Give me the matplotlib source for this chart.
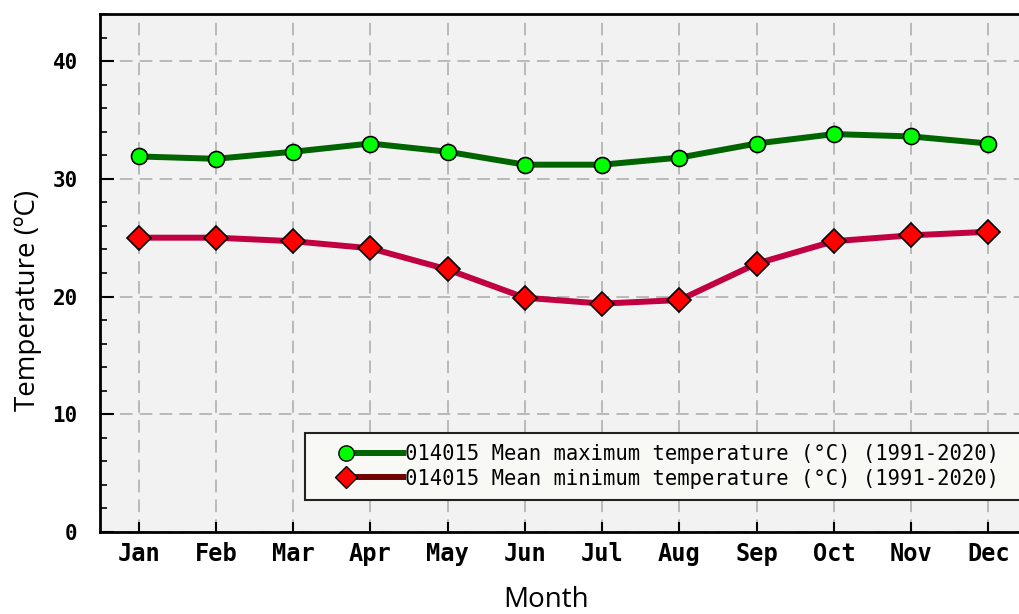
import numpy as np
import matplotlib
matplotlib.use("Agg")
import matplotlib.pyplot as plt
from matplotlib.lines import Line2D
from matplotlib.legend_handler import HandlerLine2D
from matplotlib.ticker import MultipleLocator

# Medias mensuales 1991-2020, estacion 014015
meses = ["Jan", "Feb", "Mar", "Apr", "May", "Jun",
         "Jul", "Aug", "Sep", "Oct", "Nov", "Dec"]
temp_max = [31.9, 31.7, 32.3, 33.0, 32.3, 31.2, 31.2, 31.8, 33.0, 33.8, 33.6, 33.0]
temp_min = [25.0, 25.0, 24.7, 24.1, 22.3, 19.9, 19.4, 19.7, 22.8, 24.7, 25.2, 25.5]
etiqueta_max = "014015 Mean maximum temperature (°C) (1991-2020)"
etiqueta_min = "014015 Mean minimum temperature (°C) (1991-2020)"


# marcador al inicio de la linea en la leyenda (con un margen a la izquierda)
class HandlerMarcadorIzq(HandlerLine2D):
    def create_artists(self, legend, orig_handle, xdescent, ydescent,
                       width, height, fontsize, trans):
        x0 = -xdescent + 0.34 * width
        y = (height - ydescent) / 2
        linea = Line2D([x0, -xdescent + width], [y, y])
        self.update_prop(linea, orig_handle, legend)
        linea.set_marker("None")
        marca = Line2D([x0], [y])
        self.update_prop(marca, orig_handle, legend)
        marca.set_linestyle("None")
        linea.set_transform(trans)
        marca.set_transform(trans)
        return [linea, marca]


W, H = 1019, 614
fig = plt.figure(figsize=(W / 100, H / 100), dpi=100)
ax = fig.add_axes([100 / W, 82 / H, 927 / W, 518 / H])
ax.set_facecolor("#f2f2f2")

x = np.arange(len(meses))
ax.plot(x, temp_max, color="#006400", lw=4.3, marker="o", ms=11.5,
        mfc="#00ff00", mec="black", mew=1.2, zorder=3)
ax.plot(x, temp_min, color="#c00040", lw=4.3, marker="D", ms=12,
        mfc="#ff0000", mec="black", mew=1.2, zorder=3)

ax.set_xlim(-0.5, 11.5)
ax.set_ylim(0, 44)
ax.set_xticks(x)
ax.set_xticklabels(meses)
ax.set_yticks([0, 10, 20, 30, 40])
ax.yaxis.set_minor_locator(MultipleLocator(2))

ax.grid(True, color="#b4b4b4", lw=1.3, linestyle=(0, (7, 4)))
ax.set_axisbelow(True)

ax.tick_params(axis="both", which="major", direction="in", length=7, width=1.5,
               colors="black")
ax.tick_params(axis="y", which="major", length=10, pad=16)
ax.tick_params(axis="x", which="major", pad=7)
ax.tick_params(axis="y", which="minor", direction="in", length=5, width=1.2)
for lab in ax.get_xticklabels():
    lab.set_fontfamily("DejaVu Sans Mono")
    lab.set_fontweight("bold")
    lab.set_fontsize(17)
for lab in ax.get_yticklabels():
    lab.set_fontfamily("DejaVu Sans Mono")
    lab.set_fontweight("bold")
    lab.set_fontsize(15)

for lado in ["top", "left", "bottom"]:
    ax.spines[lado].set_linewidth(2)
    ax.spines[lado].set_color("black")
ax.spines["right"].set_visible(False)

fig.text(28 / W, 1 - 300 / H, "Temperature (ºC)", rotation=90, ha="center",
         va="center", fontsize=20, family="Open Sans")
fig.text(546 / W, 1 - 600 / H, "Month", ha="center", va="center",
         fontsize=20, family="Open Sans")

h_max = Line2D([], [], color="#006400", lw=4.3, marker="o", ms=11,
               mfc="#00ff00", mec="black", mew=1)
h_min = Line2D([], [], color="#700000", lw=4.3, marker="D", ms=11,
               mfc="#ff0000", mec="black", mew=1)
leg = ax.legend([h_max, h_min], [etiqueta_max, etiqueta_min],
                loc="lower left", bbox_to_anchor=(0.221, 0.062, 0.8, 0.13),
                mode="expand",
                handler_map={Line2D: HandlerMarcadorIzq()},
                prop={"family": "DejaVu Sans Mono", "size": 14.8},
                handlelength=4.2, handletextpad=0.1, labelspacing=0.2,
                borderpad=0.55, borderaxespad=0, fancybox=False,
                framealpha=1, facecolor="#f8f8f4", edgecolor="#222222")
leg.get_frame().set_linewidth(1.5)

fig.savefig("out.png", dpi=100)
